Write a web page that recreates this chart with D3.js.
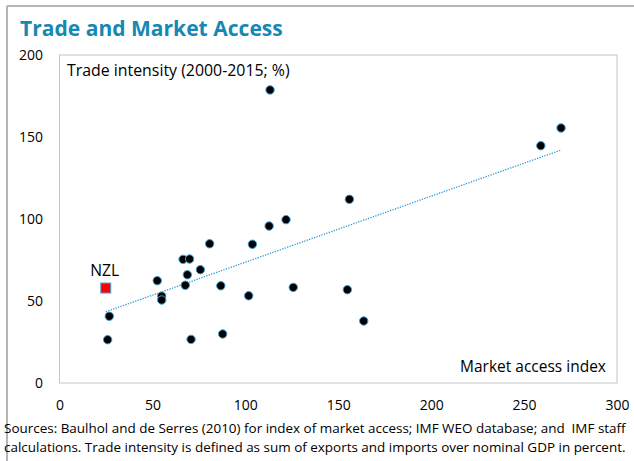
<!DOCTYPE html>
<html>
<head>
<meta charset="utf-8">
<script src="https://cdn.jsdelivr.net/npm/d3@7"></script>
<style>
  body { margin: 0; background: #fff; }
  svg { display: block; font-family: "Open Sans", "Noto Sans", sans-serif; }
</style>
</head>
<body>
<div id="chart"></div>
<script>
// market access index (x) vs trade intensity (y)
var accessIdx = [113.3, 269.9, 259, 156, 121.9, 112.8, 80.8, 103.8, 66.5, 70,
                 75.8, 68.8, 67.7, 86.8, 101.8, 125.8, 154.9, 163.7, 70.8, 87.8,
                 26.8, 25.9, 52.6, 55, 55];
var tradeInt = [178.7, 155.5, 144.7, 112, 99.6, 95.7, 84.9, 84.6, 75.4, 75.6,
                69.1, 66.0, 59.6, 59.3, 53.2, 58.3, 56.9, 37.8, 26.6, 29.9,
                40.7, 26.4, 62.4, 53, 50.6];
var nzl = {name: "NZL", x: 24.9, y: 57.9};
var xTicks = [0, 50, 100, 150, 200, 250, 300];
var yTicks = [0, 50, 100, 150, 200];

var W = 634, H = 461;
var margin = {top: 55, right: 17, bottom: 78, left: 59.5};

var svg = d3.select("#chart").append("svg")
    .attr("width", W)
    .attr("height", H);

// scale a text's font-size so it spans the width seen in the picture
function fitWidth(t, w) {
  var cur = t.node().getComputedTextLength();
  t.attr("font-size", +t.attr("font-size") * w / cur);
  return t;
}

// outer frame (left + top only)
svg.append("line").attr("x1", 7).attr("y1", 6).attr("x2", W).attr("y2", 6)
    .attr("stroke", "#b4b4b4").attr("stroke-width", 2);
svg.append("line").attr("x1", 7).attr("y1", 6).attr("x2", 7).attr("y2", H)
    .attr("stroke", "#b4b4b4").attr("stroke-width", 2);

fitWidth(svg.append("text")
    .text("Trade and Market Access")
    .attr("x", 20)
    .attr("y", 36)
    .attr("font-size", 20)
    .attr("font-weight", "bold")
    .attr("fill", "#1787b4"), 263);

var x = d3.scaleLinear().domain([0, 300]).range([margin.left, W - margin.right]);
var y = d3.scaleLinear().domain([0, 200]).range([H - margin.bottom, margin.top]);

// plot box
svg.append("rect")
    .attr("x", x(0))
    .attr("y", y(200))
    .attr("width", x(300) - x(0))
    .attr("height", y(0) - y(200))
    .attr("fill", "none")
    .attr("stroke", "#c4c4c4")
    .attr("stroke-width", 1);

var xAxis = svg.append("g")
    .attr("transform", "translate(0," + (y(0) + 17.5) + ")")
    .call(d3.axisBottom(x).tickValues(xTicks).tickSize(0).tickPadding(0));
var yAxis = svg.append("g")
    .attr("transform", "translate(" + (x(0) - 16.5) + ",0)")
    .call(d3.axisLeft(y).tickValues(yTicks).tickSize(0).tickPadding(0));
[xAxis, yAxis].forEach(function(a) {
  a.select(".domain").remove();
  a.selectAll("text")
    .attr("font-family", "'Open Sans', sans-serif")
    .attr("font-size", 15)
    .attr("fill", "#000");
});
// "200" is about 24px wide in the picture; size every tick label to match
var ref = yAxis.selectAll("text").filter(function(d) { return d === 200; });
var tickSize = 15 * 24 / ref.node().getComputedTextLength();
svg.selectAll(".tick text").attr("font-size", tickSize);

fitWidth(svg.append("text")
    .text("Trade intensity (2000-2015; %)")
    .attr("x", 67)
    .attr("y", 76)
    .attr("font-size", 15), 223);

fitWidth(svg.append("text")
    .text("Market access index")
    .attr("x", 606)
    .attr("y", 372)
    .attr("text-anchor", "end")
    .attr("font-size", 15), 146);

// linear trend fitted over every point incl. NZL
var allX = accessIdx.concat([nzl.x]), allY = tradeInt.concat([nzl.y]);
var mx = d3.mean(allX), my = d3.mean(allY);
var sxy = d3.sum(allX, function(v, i) { return (v - mx) * (allY[i] - my); });
var sxx = d3.sum(allX, function(v) { return (v - mx) * (v - mx); });
var slope = sxy / sxx, icpt = my - slope * mx;
var xmin = d3.min(allX), xmax = d3.max(allX);

svg.append("line")
    .attr("x1", x(xmin)).attr("y1", y(icpt + slope * xmin))
    .attr("x2", x(xmax)).attr("y2", y(icpt + slope * xmax))
    .attr("stroke", "#2f9ad6")
    .attr("stroke-width", 1.3)
    .attr("stroke-dasharray", "1.3,1.3");

svg.selectAll(".dot")
    .data(accessIdx)
  .enter().append("circle")
    .attr("class", "dot")
    .attr("cx", function(d) { return x(d); })
    .attr("cy", function(d, i) { return y(tradeInt[i]); })
    .attr("r", 4.2)
    .attr("fill", "#000")
    .attr("stroke", "#3aa3dd")
    .attr("stroke-width", 1);

svg.append("rect")
    .attr("x", x(nzl.x) - 5)
    .attr("y", y(nzl.y) - 5)
    .attr("width", 10)
    .attr("height", 10)
    .attr("fill", "#ff0000")
    .attr("stroke", "#4aa3dc")
    .attr("stroke-width", 1);

fitWidth(svg.append("text")
    .text(nzl.name)
    .attr("x", x(nzl.x) - 1)
    .attr("y", y(nzl.y) - 12)
    .attr("text-anchor", "middle")
    .attr("font-size", 15), 29);

var notes = [
  "Sources: Baulhol and de Serres (2010) for index of market access; IMF WEO database; and  IMF staff",
  "calculations. Trade intensity is defined as sum of exports and imports over nominal GDP in percent."
];
svg.selectAll(".note")
    .data(notes)
  .enter().append("text")
    .attr("class", "note")
    .attr("x", 4)
    .attr("y", function(d, i) { return 433 + i * 19; })
    .attr("font-size", 13)
    .style("white-space", "pre")
    .text(function(d) { return d; })
    .each(function() { fitWidth(d3.select(this), 622); });
</script>
</body>
</html>
